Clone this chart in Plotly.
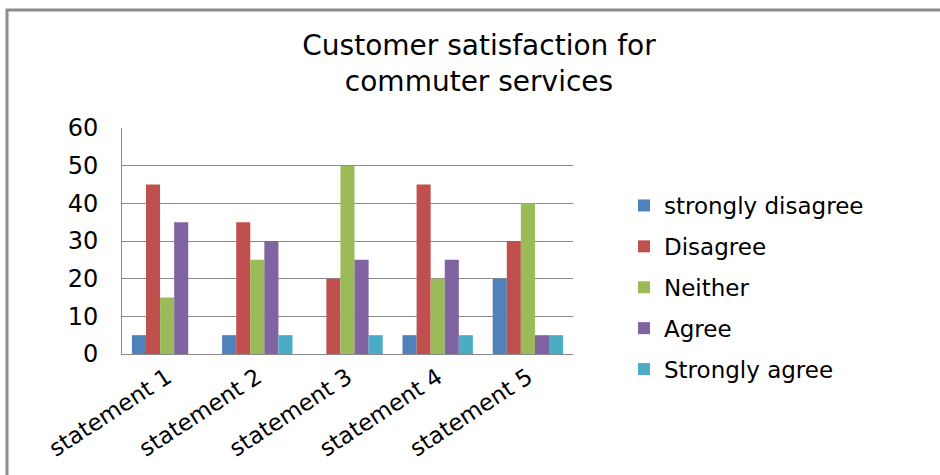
import plotly.graph_objects as go

categories = ["statement 1", "statement 2", "statement 3", "statement 4", "statement 5"]
strongly_disagree = [5, 5, 0, 5, 20]
disagree = [45, 35, 20, 45, 30]
neither = [15, 25, 50, 20, 40]
agree = [35, 30, 25, 25, 5]
strongly_agree = [0, 5, 5, 5, 5]

series = [
    ("strongly disagree", strongly_disagree, "#4F81BD"),
    ("Disagree", disagree, "#C0504D"),
    ("Neither", neither, "#9BBB59"),
    ("Agree", agree, "#8064A2"),
    ("Strongly agree", strongly_agree, "#4BACC6"),
]

fig = go.Figure()
for i, (name, vals, col) in enumerate(series):
    fig.add_trace(go.Bar(x=categories, y=vals, name=name, marker_color=col,
                         marker_line_width=0, legendgroup=f"g{i}"))

L, R, T, B = 122, 367, 128, 121
W, H = 940, 475
pw, ph = W - L - R, H - T - B

fig.update_layout(
    width=W, height=H,
    margin=dict(l=L, r=R, t=T, b=B, pad=0),
    paper_bgcolor="white", plot_bgcolor="white",
    barmode="group", bargap=0.22, bargroupgap=0,
    font=dict(family="DejaVu Sans", color="#000000"),
    title=dict(text="Customer satisfaction for<br>commuter services",
               x=479 / W, xref="container", xanchor="center",
               y=1 - 55 / H, yref="container", yanchor="middle",
               font=dict(family="DejaVu Sans", size=28, color="#000000")),
    legend=dict(x=(624 - L) / pw, xanchor="left", y=(H - B - 184) / ph, yanchor="top",
                font=dict(family="DejaVu Sans", size=23, color="#000000"),
                tracegroupgap=8, itemwidth=30, bgcolor="rgba(0,0,0,0)"),
    showlegend=True,
)
fig.update_yaxes(range=[0, 60], dtick=10, showgrid=True, gridcolor="#8a8a8a", gridwidth=1,
                 showline=True, linecolor="#8a8a8a", linewidth=1, zeroline=False,
                 tickfont=dict(family="DejaVu Sans", size=24, color="#000000"),
                 ticks="", ticklabelstandoff=18, fixedrange=True)
fig.update_xaxes(showline=True, linecolor="#8a8a8a", linewidth=1, tickangle=-33,
                 tickfont=dict(family="DejaVu Sans", size=23, color="#000000"),
                 ticks="", fixedrange=True)

fig.add_shape(type="rect", xref="paper", yref="paper",
              x0=(7 - L) / pw, x1=(950 - L) / pw,
              y0=(H - B - 490) / ph, y1=(H - B - 10) / ph,
              line=dict(color="#8c8c8c", width=3), fillcolor="rgba(0,0,0,0)", layer="below")

fig.write_html("out.html")
